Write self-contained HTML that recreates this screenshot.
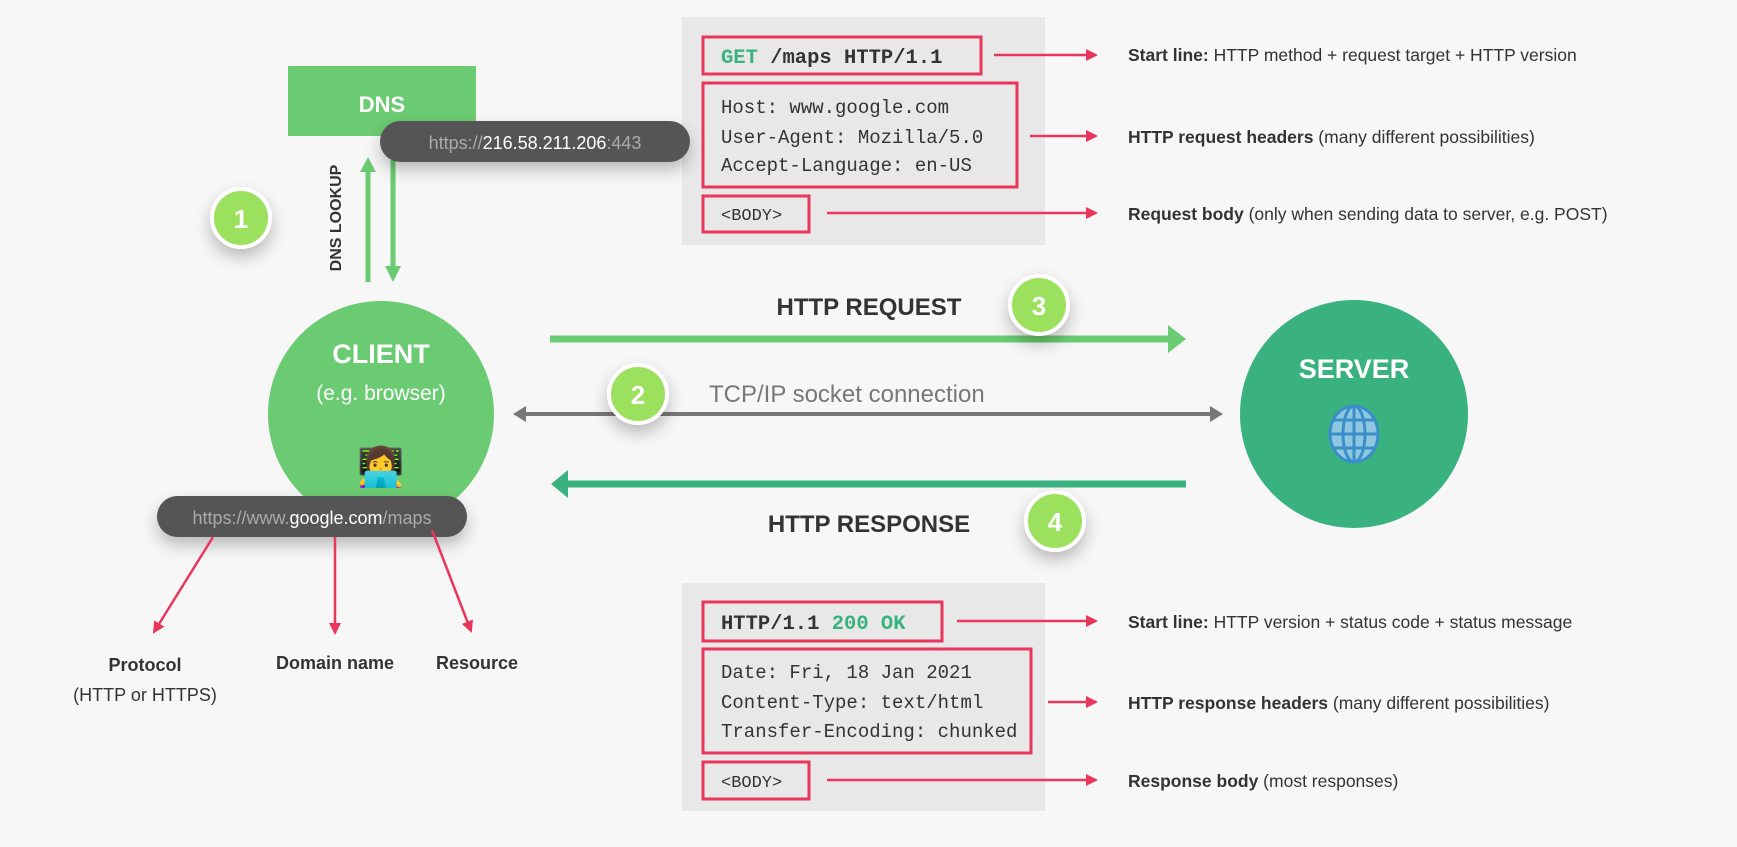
<!DOCTYPE html>
<html><head><meta charset="utf-8"><style>
html,body{margin:0;padding:0;background:#f7f7f7;}
svg{display:block}
.sans{font-family:"Liberation Sans",sans-serif}
.mono{font-family:"Liberation Mono",monospace}
</style></head><body>
<svg width="1737" height="847" viewBox="0 0 1737 847" xmlns="http://www.w3.org/2000/svg">
<defs>
<filter id="sh" x="-50%" y="-50%" width="200%" height="250%"><feDropShadow dx="0" dy="8" stdDeviation="8" flood-color="#000" flood-opacity="0.25"/></filter>
<marker id="rh" markerWidth="12" markerHeight="12" refX="10" refY="6" orient="auto" markerUnits="userSpaceOnUse"><path d="M0,0 L12,6 L0,12 Z" fill="#e8365d"/></marker>
<marker id="rh2" markerWidth="12" markerHeight="12" refX="10" refY="6" orient="auto" markerUnits="userSpaceOnUse"><path d="M0,0 L12,6 L0,12 Z" fill="#e8365d"/></marker>
</defs>
<rect width="1737" height="847" fill="#f7f7f7"/>

<rect x="682" y="17" width="363" height="228" fill="#e8e8e8"/>
<rect x="682" y="583" width="363" height="228" fill="#e8e8e8"/>

<rect x="288" y="66" width="188" height="70" fill="#6bcb72"/>
<text x="382" y="112" text-anchor="middle" class="sans" font-size="22" font-weight="bold" fill="#fff">DNS</text>
<line x1="368" y1="282" x2="368" y2="170" stroke="#6bcb72" stroke-width="5"/>
<path d="M360,172 L368,157 L376,172 Z" fill="#6bcb72"/>
<line x1="393" y1="160" x2="393" y2="268" stroke="#6bcb72" stroke-width="5"/>
<path d="M385,266 L393,282 L401,266 Z" fill="#6bcb72"/>
<text transform="translate(341,218) rotate(-90)" text-anchor="middle" class="sans" font-weight="bold" font-size="16" fill="#333">DNS LOOKUP</text>
<rect x="380" y="121" width="310" height="41" rx="20.5" fill="#555" filter="url(#sh)"/>
<text x="535" y="149" text-anchor="middle" class="sans" font-size="18" fill="#aaa">https://<tspan fill="#fff">216.58.211.206</tspan>:443</text>

<circle cx="241" cy="218" r="29" fill="#9be15d" stroke="#fff" stroke-width="4" filter="url(#sh)"/>
<text x="241" y="228" text-anchor="middle" class="sans" font-weight="bold" font-size="26" fill="#fff">1</text>

<circle cx="381" cy="414" r="113" fill="#6bcb72"/>
<text x="381" y="363" text-anchor="middle" class="sans" font-weight="bold" font-size="27" fill="#fff">CLIENT</text>
<text x="381" y="400" text-anchor="middle" class="sans" font-size="21" fill="#fff">(e.g. browser)</text>
<text x="381" y="480" text-anchor="middle" font-size="38" font-family="Noto Color Emoji,DejaVu Sans,sans-serif">👩‍💻</text>
<rect x="157" y="496" width="310" height="41" rx="20.5" fill="#555" filter="url(#sh)"/>
<text x="312" y="524" text-anchor="middle" class="sans" font-size="18" fill="#aaa">https://www.<tspan fill="#fff">google.com</tspan>/maps</text>
<line x1="213" y1="537" x2="154" y2="632" stroke="#e8365d" stroke-width="2.5" marker-end="url(#rh2)"/>
<line x1="335" y1="537" x2="335" y2="633" stroke="#e8365d" stroke-width="2.5" marker-end="url(#rh2)"/>
<line x1="432" y1="530" x2="471" y2="631" stroke="#e8365d" stroke-width="2.5" marker-end="url(#rh2)"/>
<text x="145" y="671" text-anchor="middle" class="sans" font-weight="bold" font-size="18" fill="#333">Protocol</text>
<text x="145" y="701" text-anchor="middle" class="sans" font-size="18" fill="#333">(HTTP or HTTPS)</text>
<text x="335" y="669" text-anchor="middle" class="sans" font-weight="bold" font-size="18" fill="#333">Domain name</text>
<text x="477" y="669" text-anchor="middle" class="sans" font-weight="bold" font-size="18" fill="#333">Resource</text>

<text x="869" y="315" text-anchor="middle" class="sans" font-weight="bold" font-size="24" fill="#333">HTTP REQUEST</text>
<line x1="550" y1="339" x2="1170" y2="339" stroke="#6bcb72" stroke-width="7"/>
<path d="M1168,325 L1186,339 L1168,353 Z" fill="#6bcb72"/>
<circle cx="1039" cy="305" r="29" fill="#9be15d" stroke="#fff" stroke-width="4" filter="url(#sh)"/>
<text x="1039" y="315" text-anchor="middle" class="sans" font-weight="bold" font-size="26" fill="#fff">3</text>

<line x1="524" y1="414" x2="1212" y2="414" stroke="#777" stroke-width="4"/>
<path d="M526,406 L513,414 L526,422 Z" fill="#777"/>
<path d="M1210,406 L1223,414 L1210,422 Z" fill="#777"/>
<text x="709" y="402" class="sans" font-size="24" fill="#777">TCP/IP socket connection</text>
<circle cx="638" cy="394" r="29" fill="#9be15d" stroke="#fff" stroke-width="4" filter="url(#sh)"/>
<text x="638" y="404" text-anchor="middle" class="sans" font-weight="bold" font-size="26" fill="#fff">2</text>

<line x1="566" y1="484" x2="1186" y2="484" stroke="#3ab27f" stroke-width="7"/>
<path d="M568,470 L551,484 L568,498 Z" fill="#3ab27f"/>
<text x="869" y="532" text-anchor="middle" class="sans" font-weight="bold" font-size="24" fill="#333">HTTP RESPONSE</text>
<circle cx="1055" cy="521" r="29" fill="#9be15d" stroke="#fff" stroke-width="4" filter="url(#sh)"/>
<text x="1055" y="531" text-anchor="middle" class="sans" font-weight="bold" font-size="26" fill="#fff">4</text>

<circle cx="1354" cy="414" r="114" fill="#3ab27f"/>
<text x="1354" y="378" text-anchor="middle" class="sans" font-weight="bold" font-size="27" fill="#fff">SERVER</text>
<g transform="translate(1354,434)">
<ellipse rx="24" ry="28" fill="#8fc7e0" stroke="#3a8fc8" stroke-width="3"/>
<ellipse rx="11" ry="28" fill="none" stroke="#3a8fc8" stroke-width="3"/>
<line x1="0" y1="-28" x2="0" y2="28" stroke="#3a8fc8" stroke-width="3"/>
<line x1="-24" y1="0" x2="24" y2="0" stroke="#3a8fc8" stroke-width="3"/>
<line x1="-20" y1="-14" x2="20" y2="-14" stroke="#3a8fc8" stroke-width="3"/>
<line x1="-20" y1="14" x2="20" y2="14" stroke="#3a8fc8" stroke-width="3"/>
</g>

<rect x="703" y="37" width="278" height="37" fill="none" stroke="#e8365d" stroke-width="3"/>
<text x="721" y="63" class="mono" font-size="20.5" font-weight="bold" fill="#333"><tspan fill="#3ab27f">GET</tspan> /maps HTTP/1.1</text>
<rect x="703" y="83" width="314" height="104" fill="none" stroke="#e8365d" stroke-width="3"/>
<text x="721" y="113" class="mono" font-size="19" fill="#333">Host: www.google.com</text>
<text x="721" y="143" class="mono" font-size="19" fill="#333">User-Agent: Mozilla/5.0</text>
<text x="721" y="171" class="mono" font-size="19" fill="#333">Accept-Language: en-US</text>
<rect x="703" y="196" width="106" height="36" fill="none" stroke="#e8365d" stroke-width="3"/>
<text x="721" y="220" class="mono" font-size="17" fill="#333">&lt;BODY&gt;</text>
<line x1="994" y1="55" x2="1096" y2="55" stroke="#e8365d" stroke-width="2.5" marker-end="url(#rh)"/>
<line x1="1030" y1="136" x2="1096" y2="136" stroke="#e8365d" stroke-width="2.5" marker-end="url(#rh)"/>
<line x1="827" y1="213" x2="1096" y2="213" stroke="#e8365d" stroke-width="2.5" marker-end="url(#rh)"/>
<text x="1128" y="61" class="sans" font-size="17.5" fill="#333"><tspan font-weight="bold">Start line:</tspan> HTTP method + request target + HTTP version</text>
<text x="1128" y="143" class="sans" font-size="17.5" fill="#333"><tspan font-weight="bold">HTTP request headers</tspan> (many different possibilities)</text>
<text x="1128" y="220" class="sans" font-size="17.5" fill="#333"><tspan font-weight="bold">Request body</tspan> (only when sending data to server, e.g. POST)</text>

<rect x="703" y="602" width="239" height="39" fill="none" stroke="#e8365d" stroke-width="3"/>
<text x="721" y="629" class="mono" font-size="20.5" font-weight="bold" fill="#333">HTTP/1.1 <tspan fill="#3ab27f">200 OK</tspan></text>
<rect x="703" y="649" width="328" height="104" fill="none" stroke="#e8365d" stroke-width="3"/>
<text x="721" y="678" class="mono" font-size="19" fill="#333">Date: Fri, 18 Jan 2021</text>
<text x="721" y="708" class="mono" font-size="19" fill="#333">Content-Type: text/html</text>
<text x="721" y="737" class="mono" font-size="19" fill="#333">Transfer-Encoding: chunked</text>
<rect x="703" y="762" width="106" height="37" fill="none" stroke="#e8365d" stroke-width="3"/>
<text x="721" y="787" class="mono" font-size="17" fill="#333">&lt;BODY&gt;</text>
<line x1="957" y1="621" x2="1096" y2="621" stroke="#e8365d" stroke-width="2.5" marker-end="url(#rh)"/>
<line x1="1048" y1="702" x2="1096" y2="702" stroke="#e8365d" stroke-width="2.5" marker-end="url(#rh)"/>
<line x1="827" y1="780" x2="1096" y2="780" stroke="#e8365d" stroke-width="2.5" marker-end="url(#rh)"/>
<text x="1128" y="628" class="sans" font-size="17.5" fill="#333"><tspan font-weight="bold">Start line:</tspan> HTTP version + status code + status message</text>
<text x="1128" y="709" class="sans" font-size="17.5" fill="#333"><tspan font-weight="bold">HTTP response headers</tspan> (many different possibilities)</text>
<text x="1128" y="787" class="sans" font-size="17.5" fill="#333"><tspan font-weight="bold">Response body</tspan> (most responses)</text>
</svg>
</body></html>
